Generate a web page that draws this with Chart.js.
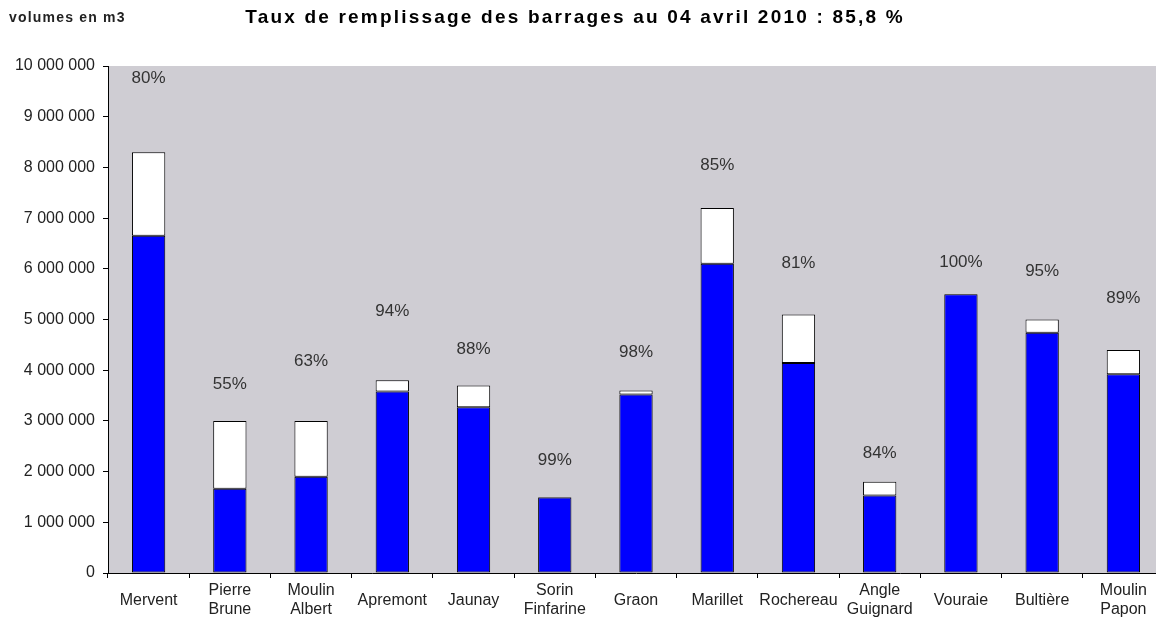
<!DOCTYPE html>
<html>
<head>
<meta charset="utf-8">
<script src="https://cdn.jsdelivr.net/npm/chart.js@4/dist/chart.umd.min.js"></script>
<style>
html, body { margin: 0; padding: 0; background: #fff; overflow: hidden; }
#wrap { width: 1170px; height: 620px; }
</style>
</head>
<body>
<div id="wrap"><canvas id="barrages-graph"></canvas></div>
<script>
// DONNEES
let barrages = [
    'Mervent', ['Pierre', 'Brune'], ['Moulin', 'Albert'], 'Apremont', 'Jaunay',
    ['Sorin', 'Finfarine'], 'Graon', 'Marillet', 'Rochereau', ['Angle', 'Guignard'],
    'Vouraie', 'Bultière', ['Moulin', 'Papon']
];
let capacite = [8300000, 3000000, 3000000, 3800000, 3700000, 1500000, 3600000, 7200000, 5100000, 1800000, 5500000, 5000000, 4400000];
let volume   = [6650000, 1660000, 1900000, 3580000, 3270000, 1490000, 3520000, 6100000, 4140000, 1530000, 5500000, 4740000, 3920000];
let taux     = ['80%', '55%', '63%', '94%', '88%', '99%', '98%', '85%', '81%', '84%', '100%', '95%', '89%'];
// serie cachee qui porte les etiquettes de pourcentage
let etiquettes = [9760000, 3730000, 4180000, 5170000, 4420000, 2230000, 4360000, 8050000, 6110000, 2370000, 6130000, 5960000, 5420000];

let titre = 'Taux de remplissage des barrages au 04 avril 2010 : 85,8 %';
let uniteAxe = 'volumes en m3';

let police = "'Liberation Sans', Arial, sans-serif";

// reste a remplir = capacite - volume
let reste = capacite.map(function (c, i) { return c - volume[i]; });

function formatMillier(v) {
    return String(v).replace(/\B(?=(\d{3})+(?!\d))/g, ' ');
}

let fondPlugin = {
    id: 'fond',
    beforeDraw: function (chart) {
        let a = chart.chartArea;
        let ctx = chart.ctx;
        ctx.save();
        ctx.fillStyle = '#cfcdd3';
        ctx.fillRect(a.left, a.top, a.right - a.left, a.bottom - a.top);
        ctx.restore();
    }
};

let textePlugin = {
    id: 'textes',
    afterDraw: function (chart) {
        let ctx = chart.ctx;
        let x = chart.scales.x, y = chart.scales.y;
        ctx.save();
        ctx.fillStyle = '#333';
        ctx.font = '17px ' + police;
        ctx.textAlign = 'center';
        ctx.textBaseline = 'middle';
        for (let i = 0; i < taux.length; i++) {
            ctx.fillText(taux[i], x.getPixelForValue(i), y.getPixelForValue(etiquettes[i]));
        }

        // titre et unite
        ctx.fillStyle = '#000';
        ctx.font = 'bold 19px ' + police;
        ctx.letterSpacing = '2.2px';
        ctx.fillText(titre, 575, 18);
        ctx.fillStyle = '#222';
        ctx.font = 'bold 14px ' + police;
        ctx.letterSpacing = '1.2px';
        ctx.textAlign = 'left';
        ctx.fillText(uniteAxe, 9, 18);
        ctx.restore();
    }
};

let ctx = document.querySelector('#barrages-graph').getContext('2d');

let myChart = new Chart(ctx, {
    type: 'bar',
    data: {
        labels: barrages,
        datasets: [{
            label: 'Volume',
            data: volume,
            backgroundColor: '#0000ff',
            borderColor: '#000',
            borderWidth: 1,
            borderSkipped: false
        }, {
            label: 'Reste',
            data: reste,
            backgroundColor: '#ffffff',
            borderColor: '#000',
            borderWidth: 1,
            borderSkipped: false
        }]
    },
    options: {
        responsive: true,
        maintainAspectRatio: false,
        animation: false,
        barPercentage: 0.41,
        categoryPercentage: 1,
        layout: { padding: { left: 0, right: 6, top: 66, bottom: 0 } },
        plugins: {
            legend: { display: false },
            tooltip: { enabled: false },
            title: { display: false }
        },
        scales: {
            x: {
                stacked: true,
                grid: { drawOnChartArea: false, drawTicks: true, tickLength: 5, color: '#000', offset: true },
                border: { display: true, color: '#000' },
                ticks: {
                    color: '#222',
                    font: { family: police, size: 16, lineHeight: 1.15 },
                    padding: 13,
                    maxRotation: 0,
                    autoSkip: false,
                    crossAlign: 'center'
                },
                afterFit: function (scale) { scale.height = 47; }
            },
            y: {
                stacked: true,
                min: 0,
                max: 10000000,
                grid: { drawOnChartArea: false, drawTicks: true, tickLength: 5, color: '#000' },
                border: { display: true, color: '#000' },
                ticks: {
                    stepSize: 1000000,
                    color: '#222',
                    font: { family: police, size: 16 },
                    padding: 8,
                    callback: function (v) { return formatMillier(v); }
                },
                afterFit: function (scale) { scale.width = 108; }
            }
        }
    },
    plugins: [fondPlugin, textePlugin]
});
</script>
</body>
</html>
